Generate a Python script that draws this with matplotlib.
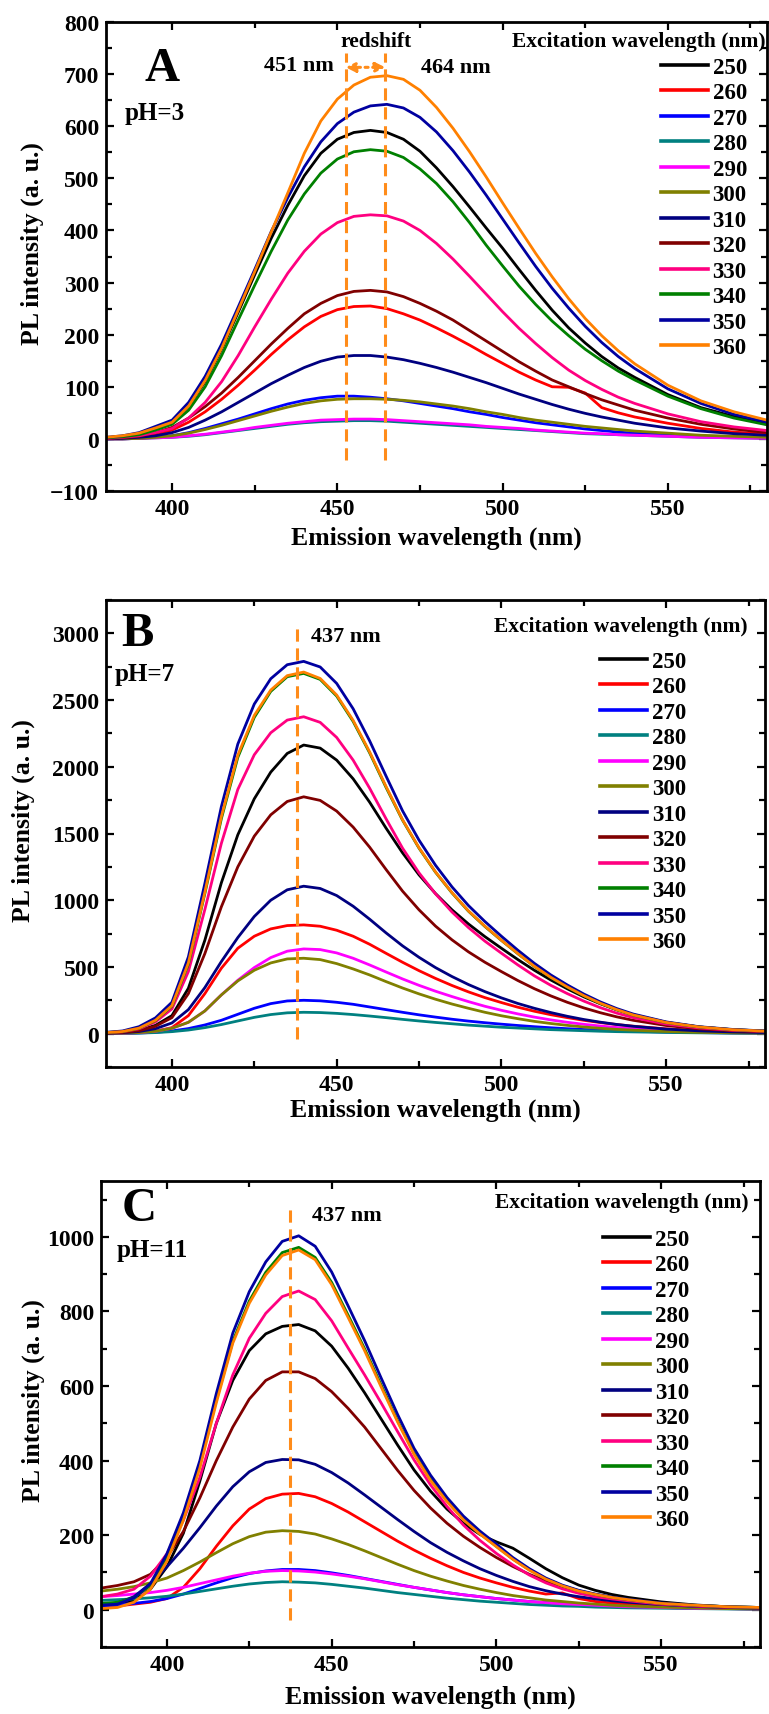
import matplotlib
matplotlib.use('Agg')
import matplotlib.pyplot as plt
from matplotlib.ticker import MultipleLocator

plt.rcParams['font.family'] = ['Liberation Serif', 'DejaVu Serif']
plt.rcParams['font.weight'] = 'bold'
plt.rcParams['axes.labelweight'] = 'bold'

# emission wavelength grid (nm)
wl = [380, 385, 390, 395, 400, 405, 410, 415, 420, 425, 430, 435, 440, 445, 450,
      455, 460, 465, 470, 475, 480, 485, 490, 495, 500, 505, 510, 515, 520, 525,
      530, 535, 540, 550, 560, 570, 580]

excitation = ['250', '260', '270', '280', '290', '300', '310', '320', '330', '340', '350', '360']
colors = ['#000000', '#FF0000', '#0000FF', '#008080', '#FF00FF', '#808000',
          '#000080', '#800000', '#FF0080', '#008000', '#0000A0', '#FF8000']
markColor = '#FF8C1A'

# ---- pH = 3 ----
pH3_250 = [2, 5, 10, 20, 31, 62, 110, 172, 243, 315, 385, 448, 505, 548, 575, 588, 592, 588, 575, 552,
           520, 484, 445, 405, 366, 325, 285, 247, 213, 184, 158, 136, 118, 85, 60, 43, 30]
pH3_260 = [1, 2, 4, 9, 17, 32, 52, 76, 103, 132, 162, 190, 215, 235, 248, 254, 255, 250, 240, 228,
           213, 197, 180, 162, 145, 128, 113, 100, 99, 88, 60, 50, 42, 30, 20, 13, 9]
pH3_270 = [0, 0, 1, 3, 6, 12, 20, 29, 38, 48, 58, 67, 74, 79, 82, 82, 80, 77, 73, 68,
           63, 58, 52, 47, 41, 36, 31, 27, 23, 19, 16, 13, 11, 8, 5, 3, 2]
pH3_280 = [0, 0, 1, 2, 3, 5, 8, 12, 16, 20, 24, 28, 31, 33, 34, 35, 35, 34, 32, 30,
           28, 26, 24, 22, 20, 18, 16, 14, 12, 10, 9, 8, 7, 5, 3, 2, 1]
pH3_290 = [0, 0, 1, 2, 3, 6, 9, 13, 17, 22, 26, 30, 33, 36, 37, 38, 38, 37, 35, 33,
           31, 29, 27, 24, 22, 20, 17, 15, 13, 11, 10, 8, 7, 5, 3, 2, 1]
pH3_300 = [0, 0, 1, 3, 6, 11, 18, 26, 35, 44, 53, 61, 68, 73, 76, 77, 77, 76, 74, 71,
           67, 63, 58, 52, 47, 41, 36, 32, 28, 24, 21, 18, 15, 11, 7, 5, 3]
pH3_310 = [0, 1, 3, 6, 12, 22, 36, 52, 70, 88, 106, 122, 137, 149, 157, 160, 160, 157, 152, 145,
           137, 128, 118, 108, 97, 86, 76, 66, 57, 49, 42, 36, 30, 21, 15, 10, 7]
pH3_320 = [1, 2, 5, 12, 22, 40, 62, 88, 118, 150, 182, 212, 240, 260, 275, 283, 285, 282, 273, 260,
           245, 228, 208, 188, 168, 148, 130, 113, 100, 87, 75, 65, 55, 40, 28, 19, 12]
pH3_330 = [1, 3, 6, 12, 20, 40, 70, 110, 160, 215, 268, 318, 360, 393, 415, 427, 430, 428, 418, 400,
           375, 345, 312, 278, 244, 212, 183, 156, 132, 112, 95, 80, 68, 48, 33, 23, 16]
pH3_340 = [2, 4, 8, 17, 28, 55, 100, 160, 228, 295, 360, 420, 470, 510, 537, 551, 555, 552, 540, 518,
           490, 455, 415, 372, 332, 293, 258, 226, 198, 172, 150, 130, 113, 82, 58, 40, 27]
pH3_350 = [3, 6, 12, 24, 36, 70, 120, 182, 253, 325, 398, 463, 522, 570, 605, 627, 639, 642, 635, 617,
           589, 553, 512, 468, 422, 376, 331, 289, 251, 216, 185, 158, 135, 96, 68, 47, 32]
pH3_360 = [3, 6, 11, 21, 32, 63, 112, 174, 247, 321, 397, 472, 548, 610, 652, 679, 694, 697, 690, 669,
           636, 596, 551, 503, 453, 404, 356, 311, 269, 231, 198, 169, 144, 103, 73, 52, 36]

# ---- pH = 7 ----
pH7_250 = [5, 10, 25, 62, 135, 340, 700, 1130, 1490, 1760, 1960, 2100, 2163, 2140, 2050, 1910, 1735, 1540, 1355, 1190,
           1050, 928, 822, 727, 640, 555, 475, 402, 336, 276, 224, 179, 141, 85, 50, 30, 19]
pH7_260 = [2, 4, 8, 18, 45, 135, 300, 490, 640, 730, 785, 810, 815, 805, 775, 730, 670, 602, 535, 472,
           414, 361, 313, 270, 233, 198, 168, 142, 120, 100, 83, 68, 56, 36, 23, 15, 10]
pH7_270 = [1, 2, 5, 10, 20, 38, 65, 100, 145, 190, 225, 245, 250, 246, 235, 220, 200, 180, 160, 141,
           124, 108, 94, 82, 71, 61, 52, 44, 37, 31, 26, 22, 18, 12, 8, 5, 3]
pH7_280 = [1, 2, 4, 8, 15, 27, 45, 68, 95, 122, 143, 156, 160, 158, 152, 143, 132, 120, 107, 95,
           84, 74, 64, 56, 48, 42, 36, 30, 26, 22, 18, 15, 13, 9, 6, 4, 3]
pH7_290 = [2, 4, 8, 18, 40, 85, 170, 290, 400, 495, 570, 618, 635, 630, 605, 565, 515, 462, 410, 362,
           318, 278, 240, 205, 175, 148, 124, 103, 85, 70, 57, 46, 37, 24, 15, 9, 6]
pH7_300 = [2, 4, 8, 18, 40, 85, 170, 290, 395, 475, 530, 560, 565, 555, 525, 485, 440, 390, 342, 298,
           258, 222, 190, 160, 134, 112, 92, 76, 62, 50, 40, 32, 26, 16, 10, 6, 4]
pH7_310 = [3, 7, 16, 37, 80, 180, 345, 540, 720, 878, 1000, 1078, 1105, 1088, 1035, 955, 858, 755, 658, 572,
           495, 428, 368, 315, 268, 226, 190, 158, 130, 106, 86, 69, 55, 34, 21, 13, 8]
pH7_320 = [4, 9, 22, 55, 120, 300, 600, 950, 1250, 1480, 1640, 1740, 1775, 1748, 1668, 1548, 1398, 1230, 1068, 928,
           806, 703, 613, 535, 465, 398, 337, 283, 235, 193, 157, 126, 100, 61, 36, 22, 14]
pH7_330 = [7, 14, 36, 88, 185, 465, 930, 1425, 1830, 2090, 2255, 2350, 2375, 2333, 2220, 2050, 1840, 1610, 1390, 1205,
           1048, 912, 795, 693, 603, 515, 433, 362, 300, 244, 195, 154, 120, 72, 43, 26, 17]
pH7_340 = [8, 15, 40, 98, 206, 520, 1050, 1610, 2070, 2370, 2565, 2675, 2700, 2655, 2530, 2340, 2105, 1845, 1600, 1390,
           1210, 1055, 918, 803, 699, 599, 504, 421, 349, 284, 227, 179, 139, 83, 50, 30, 19]
pH7_350 = [10, 20, 52, 118, 235, 575, 1125, 1700, 2170, 2470, 2660, 2765, 2790, 2748, 2625, 2435, 2195, 1930, 1670, 1450,
           1262, 1100, 960, 840, 730, 625, 527, 440, 365, 297, 238, 188, 147, 88, 52, 32, 20]
pH7_360 = [8, 16, 41, 100, 210, 530, 1060, 1626, 2087, 2385, 2575, 2683, 2710, 2662, 2538, 2348, 2112, 1852, 1603, 1393,
           1212, 1057, 920, 805, 700, 600, 505, 422, 350, 285, 228, 180, 140, 84, 50, 30, 19]

# ---- pH = 11 ----
pH11_250 = [5, 10, 25, 55, 115, 205, 345, 500, 615, 695, 740, 760, 765, 748, 707, 648, 582, 512, 442, 375,
            318, 270, 232, 202, 182, 165, 138, 110, 86, 66, 52, 41, 33, 21, 13, 8, 6]
pH11_260 = [7, 10, 15, 20, 30, 60, 110, 170, 225, 270, 298, 310, 312, 303, 285, 262, 236, 210, 184, 160,
            138, 118, 100, 85, 72, 60, 50, 42, 45, 30, 22, 18, 15, 10, 7, 5, 3]
pH11_270 = [10, 13, 17, 22, 30, 42, 57, 72, 86, 97, 104, 108, 108, 105, 99, 92, 84, 76, 68, 60,
            53, 46, 40, 35, 30, 26, 22, 19, 16, 14, 12, 10, 8, 6, 4, 3, 2]
pH11_280 = [25, 27, 29, 32, 36, 42, 49, 56, 63, 69, 73, 75, 74, 72, 68, 63, 58, 52, 46, 41,
            36, 31, 27, 23, 20, 17, 14, 12, 10, 9, 7, 6, 5, 4, 3, 2, 1]
pH11_290 = [35, 38, 42, 46, 52, 60, 70, 80, 90, 98, 103, 105, 104, 101, 96, 90, 83, 75, 67, 60,
            53, 46, 40, 35, 30, 26, 22, 19, 16, 14, 12, 10, 8, 6, 4, 3, 2]
pH11_300 = [50, 55, 62, 72, 85, 105, 128, 153, 177, 196, 208, 212, 210, 203, 190, 175, 158, 140, 122, 105,
            90, 77, 65, 55, 46, 38, 32, 26, 22, 18, 15, 12, 10, 7, 5, 3, 2]
pH11_310 = [12, 18, 35, 70, 115, 165, 220, 278, 330, 370, 395, 403, 402, 390, 368, 340, 308, 275, 242, 210,
            180, 154, 131, 110, 92, 76, 62, 51, 42, 35, 29, 24, 20, 14, 9, 6, 4]
pH11_320 = [58, 65, 75, 95, 140, 210, 300, 400, 490, 565, 615, 638, 638, 620, 585, 540, 490, 432, 374, 320,
            273, 232, 197, 167, 140, 116, 95, 77, 62, 50, 40, 32, 26, 17, 11, 7, 5]
pH11_330 = [35, 42, 55, 90, 150, 240, 355, 500, 630, 728, 795, 840, 855, 832, 775, 702, 630, 555, 478, 402,
            335, 277, 227, 186, 151, 120, 93, 72, 56, 44, 35, 29, 24, 15, 10, 7, 5]
pH11_340 = [17, 20, 32, 65, 140, 248, 388, 562, 720, 828, 905, 958, 972, 945, 878, 790, 700, 603, 507, 420,
            350, 292, 243, 204, 170, 136, 107, 83, 64, 51, 41, 33, 27, 17, 12, 8, 6]
pH11_350 = [12, 15, 32, 70, 150, 260, 400, 580, 742, 853, 933, 988, 1003, 975, 906, 815, 722, 622, 524, 433,
            361, 301, 251, 211, 176, 140, 110, 85, 66, 52, 42, 34, 28, 18, 12, 8, 6]
pH11_360 = [3, 6, 20, 55, 130, 240, 380, 555, 715, 822, 898, 950, 965, 939, 872, 784, 695, 598, 504, 417,
            347, 290, 241, 203, 169, 135, 106, 82, 64, 50, 41, 33, 27, 17, 12, 8, 6]

panels = [
    dict(rect=[106/769, 1-492/1715, 661/769, 469/1715],
         series=[pH3_250, pH3_260, pH3_270, pH3_280, pH3_290, pH3_300,
                 pH3_310, pH3_320, pH3_330, pH3_340, pH3_350, pH3_360],
         ylim=(-100, 800), yticks=range(-100, 801, 100), yminor=50,
         letter='A', letter_xy=(397, 712), ph='pH=3', ph_xy=(385.7, 627),
         peaks=[452.5, 464.5], peak_y=(-40, 740),
         ylab_x=-0.112, xlab_y=-46/469,
         title_xy=(0.998, 0.9595), leg_xy=(0.8396, 0.9264)),
    dict(rect=[106/769, 1-1068/1715, 659/769, 467/1715],
         series=[pH7_250, pH7_260, pH7_270, pH7_280, pH7_290, pH7_300,
                 pH7_310, pH7_320, pH7_330, pH7_340, pH7_350, pH7_360],
         ylim=(-250, 3250), yticks=range(0, 3001, 500), yminor=250,
         letter='B', letter_xy=(389.4, 3000), ph='pH=7', ph_xy=(382.7, 2698),
         peaks=[438], peak_y=(-40, 3040), peak_text=('437 nm', 452.7, 2980),
         ylab_x=-0.126, xlab_y=-42/467,
         title_xy=(0.974, 0.944), leg_xy=(0.75, 0.8919)),
    dict(rect=[101/769, 1-1648/1715, 659/769, 466/1715],
         series=[pH11_250, pH11_260, pH11_270, pH11_280, pH11_290, pH11_300,
                 pH11_310, pH11_320, pH11_330, pH11_340, pH11_350, pH11_360],
         ylim=(-100, 1150), yticks=range(0, 1001, 200), yminor=100,
         letter='C', letter_xy=(391.7, 1078), ph='pH=11', ph_xy=(384.6, 966),
         peaks=[437.5], peak_y=(-27, 1081), peak_text=('437 nm', 454.5, 1059),
         ylab_x=-0.102, xlab_y=-49/466,
         title_xy=(0.983, 0.955), leg_xy=(0.762, 0.898)),
]

fig = plt.figure(figsize=(7.69, 17.15), dpi=100)

for p in panels:
    ax = fig.add_axes(p['rect'])
    lines = []
    for vals, c in zip(p['series'], colors):
        ln, = ax.plot(wl, vals, color=c, lw=2.0, solid_joinstyle='round')
        lines.append(ln)

    # peak markers
    for px in p['peaks']:
        ax.plot([px, px], p['peak_y'], color=markColor, lw=2.2, ls=(0, (4, 2.2)))

    ax.set_xlim(380, 580)
    ax.set_ylim(*p['ylim'])
    ax.set_xticks([400, 450, 500, 550])
    ax.set_yticks(list(p['yticks']))
    ax.xaxis.set_minor_locator(MultipleLocator(25))
    ax.yaxis.set_minor_locator(MultipleLocator(p['yminor']))
    ax.tick_params(which='both', direction='in', top=True, right=True, width=1.6,
                   labelsize=17, pad=5)
    ax.tick_params(which='major', length=6)
    ax.tick_params(which='minor', length=4)
    for sp in ax.spines.values():
        sp.set_linewidth(2.0)

    ax.set_xlabel('Emission wavelength (nm)', fontsize=18.5, va='center')
    ax.xaxis.set_label_coords(0.5, p['xlab_y'])
    ax.set_ylabel('PL intensity (a. u.)', fontsize=18.5, va='center')
    ax.yaxis.set_label_coords(p['ylab_x'], 0.53)

    ax.text(*p['letter_xy'], p['letter'], fontsize=35, ha='center', va='center')
    ax.text(*p['ph_xy'], p['ph'], fontsize=18, ha='left', va='center')
    if 'peak_text' in p:
        t, tx, ty = p['peak_text']
        ax.text(tx, ty, t, fontsize=16, ha='center', va='center')

    ax.text(*p['title_xy'], 'Excitation wavelength (nm)', transform=ax.transAxes,
            fontsize=15.5, ha='right', va='center')
    leg = ax.legend(lines, excitation, loc='upper left', bbox_to_anchor=p['leg_xy'],
                    frameon=False, fontsize=16.5, handlelength=2.05, handletextpad=0.2,
                    labelspacing=0.195, borderpad=0, borderaxespad=0)
    for h in leg.get_lines():
        h.set_linewidth(2.6)

    if p['letter'] == 'A':
        ax.text(461.7, 763, 'redshift', fontsize=15.5, ha='center', va='center')
        ax.text(438.4, 718, '451 nm', fontsize=16, ha='center', va='center')
        ax.text(485.9, 714, '464 nm', fontsize=16, ha='center', va='center')
        ax.annotate('', xy=(452.5, 713), xytext=(464.5, 713),
                    arrowprops=dict(arrowstyle='<|-|>', color=markColor, lw=2.2,
                                    ls=(0, (3, 1.5, 1, 1.5)), mutation_scale=14,
                                    shrinkA=0, shrinkB=0))

fig.savefig('out.png', dpi=100)
